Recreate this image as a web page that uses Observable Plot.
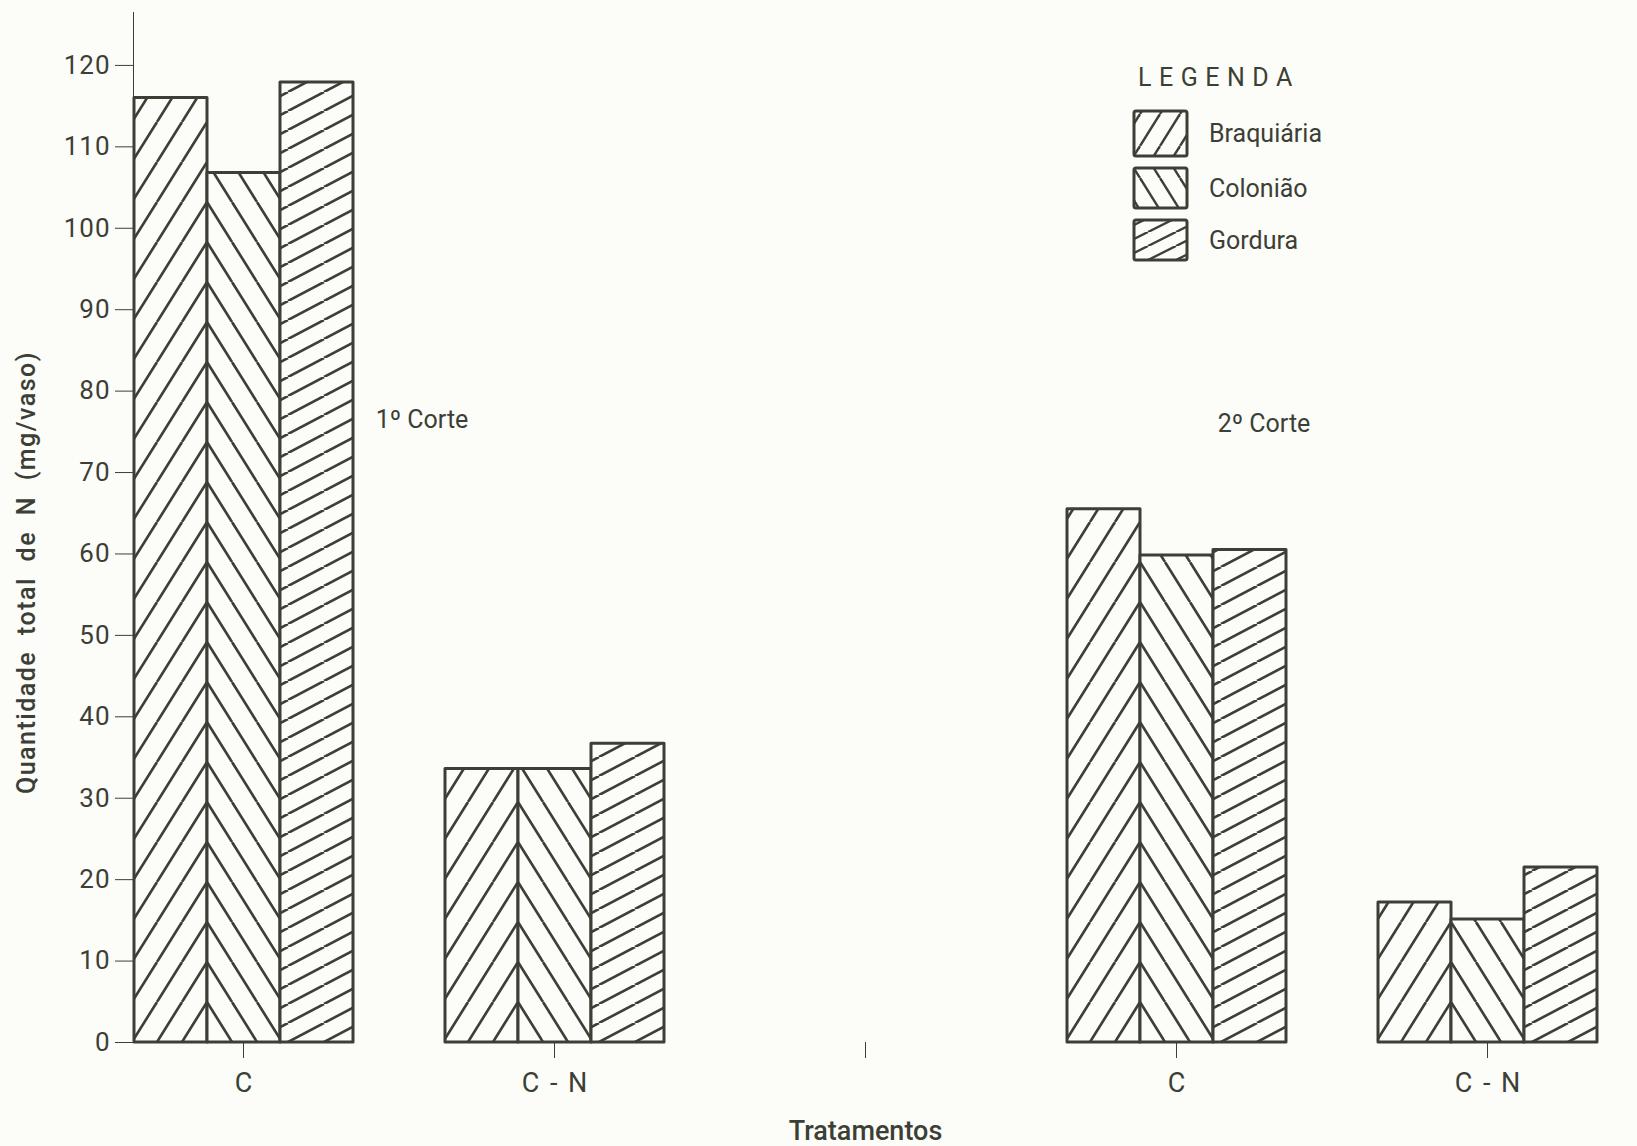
<!DOCTYPE html>
<html>
<head>
<meta charset="utf-8">
<script src="https://cdn.jsdelivr.net/npm/d3@7"></script>
<script src="https://cdn.jsdelivr.net/npm/@observablehq/plot@0.6"></script>
<style>
  html, body { margin: 0; padding: 0; background: #fcfcf8; }
  #wrap { position: relative; width: 1637px; height: 1146px; overflow: hidden; }
  #wrap svg.plot { display: block; }
  #legend { position: absolute; left: 1120px; top: 50px; }
  [aria-label="y-axis label"] text { font-weight: 500; font-size: 25px; letter-spacing: 1.5px; word-spacing: 8px; }
  [aria-label="fx-axis label"] text { font-weight: 500; font-size: 27px; }
  [aria-label="y-axis tick label"] text { font-size: 26px; letter-spacing: 1px; }
  [aria-label="fx-axis tick label"] text { font-size: 27px; word-spacing: 4px; }
</style>
</head>
<body>
<div id="wrap"></div>
<script>
// ---------- data ----------
const groups = ["1C", "1CN", "mid", "2C", "2CN"];
const groupLabels = ["C", "C - N", "", "C", "C - N"];
const species = ["Braquiária", "Colonião", "Gordura"];
const braquiaria = [116, 33.6, null, 65.5, 17.2];
const coloniao = [106.8, 33.6, null, 59.8, 15.1];
const gordura = [117.9, 36.7, null, 60.5, 21.5];
const yTicks = [0, 10, 20, 30, 40, 50, 60, 70, 80, 90, 100, 110, 120];
const noteTexts = ["1º Corte", "2º Corte"];
const noteGroups = ["1C", "2C"];
const noteValues = [76.5, 76];
const yLabel = "Quantidade total de N (mg/vaso)";
const xLabel = "Tratamentos";
const legendTitle = "LEGENDA";

// ---------- build table ----------
const seriesArrays = [braquiaria, coloniao, gordura];
const data = [];
groups.forEach((g, i) => {
  seriesArrays.forEach((arr, j) => {
    data.push({group: g, species: species[j], value: arr[i]});
  });
});
const notes = noteTexts.map((t, i) => ({text: t, group: noteGroups[i], value: noteValues[i], at: "Gordura"}));

const ink = "#3b3f35";
const font = "Roboto, 'DejaVu Sans', sans-serif";

const plot = Plot.plot({
  width: 1637,
  height: 1146,
  marginLeft: 133,
  marginRight: 0,
  marginTop: 12,
  marginBottom: 104,
  style: {fontFamily: font, fontSize: "24px", color: ink, background: "transparent", overflow: "visible"},
  fx: {
    domain: groups,
    paddingInner: 0.2926,
    paddingOuter: 0.064,
    align: 0,
    axis: "bottom",
    tickFormat: d => groupLabels[groups.indexOf(d)],
    tickSize: 16,
    tickPadding: 14,
    label: xLabel,
    labelAnchor: "center",
    labelOffset: 97,
    labelArrow: false,
    line: true
  },
  x: {domain: species, padding: 0, axis: null},
  y: {
    domain: [0, 126.5],
    ticks: yTicks,
    tickSize: 18,
    tickPadding: 5,
    line: true,
    label: yLabel,
    labelAnchor: "center",
    labelOffset: 116,
    labelArrow: false
  },
  color: {domain: species, range: ["url(#pBraq)", "url(#pCol)", "url(#pGord)"]},
  marks: [
    Plot.barY(data, {fx: "group", x: "species", y: "value", fill: "species", stroke: ink, strokeWidth: 3, strokeLinejoin: "round"}),
    Plot.text(notes.slice(0, 1), {fx: "group", x: "at", y: "value", text: "text", dx: 105, fontSize: 25, fill: ink}),
    Plot.text(notes.slice(1, 2), {fx: "group", x: "at", y: "value", text: "text", dx: 14, fontSize: 25, fill: ink})
  ]
});
plot.classList.add("plot");
document.getElementById("wrap").appendChild(plot);

// shift rotated y label along the axis (down) to match reference
d3.select(plot).selectAll('[aria-label="y-axis label"] text').attr("dx", -45);

// ---------- hatch patterns (aligned to Braquiária/Colonião boundary) ----------
const xs = plot.scale("x");
const ys = plot.scale("y");
const edge = xs.apply("Colonião");
const base = ys.apply(0);
const svg = d3.select(plot);
const defs = svg.insert("defs", ":first-child");

function hatch(defsSel, id, w, h, dir, tx, ty, sw) {
  const p = defsSel.append("pattern")
    .attr("id", id)
    .attr("patternUnits", "userSpaceOnUse")
    .attr("width", w).attr("height", h)
    .attr("patternTransform", `translate(${tx},${ty})`);
  p.append("rect").attr("width", w).attr("height", h).attr("fill", "#fcfcf8");
  const offs = [-w, 0, w];
  offs.forEach(o => {
    if (dir === "/") {
      p.append("line").attr("x1", o).attr("y1", h).attr("x2", o + w).attr("y2", 0);
    } else {
      p.append("line").attr("x1", o).attr("y1", 0).attr("x2", o + w).attr("y2", h);
    }
  });
  p.selectAll("line").attr("stroke", ink).attr("stroke-width", sw);
}
hatch(defs, "pBraq", 25, 40, "/", edge, base, 2.6);
hatch(defs, "pCol", 25, 40, "\\", edge, base, 2.6);
hatch(defs, "pGord", 36, 19, "/", 0, base, 2.6);

// ---------- legend ----------
const lg = d3.select("#wrap").append("svg")
  .attr("id", "legend")
  .attr("width", 260).attr("height", 230)
  .style("font-family", font);
const ldefs = lg.append("defs");
hatch(ldefs, "lBraq", 20, 32, "/", 0, 0, 2.4);
hatch(ldefs, "lCol", 20, 32, "\\", 0, 0, 2.4);
hatch(ldefs, "lGord", 28, 14, "/", 0, 0, 2.4);
lg.append("text").attr("x", 18).attr("y", 36)
  .attr("font-size", 25).attr("letter-spacing", 7.5).attr("fill", ink).attr("font-weight", 400)
  .text(legendTitle);
const lfills = ["url(#lBraq)", "url(#lCol)", "url(#lGord)"];
species.forEach((s, i) => {
  const top = [61, 118, 170][i];
  lg.append("rect").attr("x", 14).attr("y", top).attr("width", 53).attr("height", [45, 40, 40][i])
    .attr("rx", 2).attr("fill", lfills[i]).attr("stroke", ink).attr("stroke-width", 3);
  lg.append("text").attr("x", 89).attr("y", top + [22, 20, 20][i]).attr("dy", "0.35em")
    .attr("font-size", 25).attr("font-weight", 400).attr("fill", ink).text(s);
});
</script>
</body>
</html>
